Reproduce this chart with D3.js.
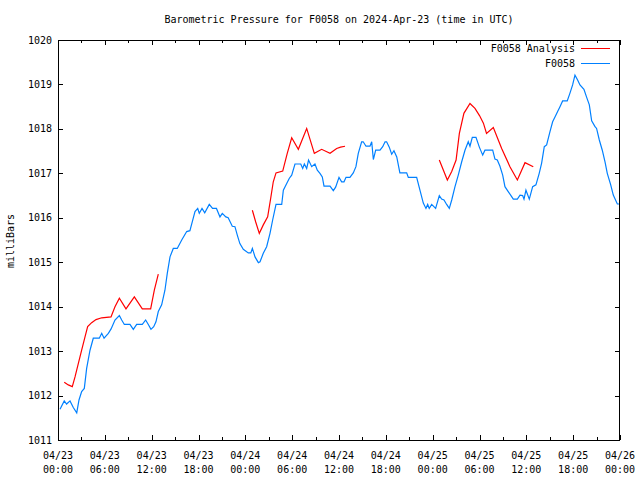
<!DOCTYPE html>
<html>
<head>
<meta charset="utf-8">
<script src="https://cdn.jsdelivr.net/npm/d3@7"></script>
<style>
html,body{margin:0;padding:0;background:#fff;}
svg{display:block;}
text{font-family:"DejaVu Sans Mono",monospace;font-size:10px;fill:#000;}
</style>
</head>
<body>
<svg id="chart" width="640" height="480"></svg>
<script>
// ---- data (hours since 2024-04-23 00:00 UTC, pressure in mb) ----
const titleText = "Barometric Pressure for F0058 on 2024-Apr-23 (time in UTC)";
const yLabel = "milliBars";
const seriesNames = ["F0058 Analysis", "F0058"];
const yTicks = [1011,1012,1013,1014,1015,1016,1017,1018,1019,1020];
const xTickHours = [0,6,12,18,24,30,36,42,48,54,60,66,72];
const xTickDates = ["04/23","04/23","04/23","04/23","04/24","04/24","04/24","04/24","04/25","04/25","04/25","04/25","04/26"];
const xTickTimes = ["00:00","06:00","12:00","18:00","00:00","06:00","12:00","18:00","00:00","06:00","12:00","18:00","00:00"];

const stationHours = [0.26,0.8,1.1,1.54,1.96,2.4,2.69,3.03,3.37,3.67,4.1,4.52,5.29,5.6,5.9,6.45,6.8,7.3,7.86,8.16,8.5,9.22,9.65,10.08,10.8,11.23,11.57,11.91,12.26,12.55,12.85,13.28,13.7,14.0,14.35,14.77,15.28,15.85,16.49,16.9,17.2,17.55,17.9,18.1,18.45,18.8,19.38,19.8,20.3,20.75,21.05,21.5,21.8,22.33,22.67,22.97,23.3,23.74,24.38,24.7,24.9,25.24,25.67,25.88,26.3,26.73,27.16,27.5,27.93,28.66,28.87,29.3,29.64,29.94,30.36,31.1,31.35,31.56,31.86,32.1,32.5,32.92,33.22,33.56,33.86,34.08,34.85,35.27,35.57,36.0,36.34,36.64,36.9,37.4,37.83,38.17,38.47,38.9,39.1,39.46,39.97,40.19,40.4,40.7,41.25,41.6,41.9,42.1,42.44,42.75,43.04,43.4,43.8,44.67,44.88,45.95,46.37,46.8,47.14,47.36,47.56,47.87,48.38,48.85,49.15,49.45,49.79,50.13,50.44,50.86,51.28,51.72,52.14,52.56,52.78,53.08,53.55,53.98,54.41,54.7,55.69,55.98,56.28,56.62,56.97,57.26,57.68,57.99,58.33,58.85,59.19,59.53,59.7,59.95,60.38,60.81,61.23,61.65,61.96,62.3,62.6,63.03,63.37,63.67,64.01,64.31,64.65,65.24,65.58,65.93,66.23,66.57,66.87,67.38,67.73,68.07,68.37,68.8,69.0,69.35,69.73,70.08,70.37,70.81,71.14,71.66,71.92];
const stationValues = [1011.69,1011.88,1011.81,1011.88,1011.73,1011.61,1011.9,1012.09,1012.16,1012.61,1013.02,1013.29,1013.29,1013.4,1013.29,1013.4,1013.5,1013.7,1013.8,1013.7,1013.6,1013.6,1013.49,1013.6,1013.6,1013.7,1013.6,1013.49,1013.55,1013.66,1013.89,1014.04,1014.37,1014.75,1015.12,1015.31,1015.31,1015.5,1015.69,1015.71,1015.91,1016.14,1016.21,1016.1,1016.21,1016.11,1016.3,1016.21,1016.21,1016.02,1016.1,1016.02,1016.0,1015.81,1015.8,1015.61,1015.42,1015.29,1015.21,1015.21,1015.31,1015.12,1014.99,1015.01,1015.2,1015.35,1015.65,1015.95,1016.3,1016.3,1016.62,1016.77,1016.89,1016.96,1017.21,1017.21,1017.11,1017.21,1017.11,1017.3,1017.15,1017.21,1017.07,1017.0,1016.92,1016.71,1016.71,1016.61,1016.69,1016.91,1016.81,1016.81,1016.91,1016.91,1017.01,1017.15,1017.45,1017.71,1017.71,1017.61,1017.61,1017.71,1017.31,1017.52,1017.52,1017.6,1017.71,1017.71,1017.59,1017.43,1017.51,1017.37,1017.01,1017.01,1016.91,1016.91,1016.62,1016.33,1016.21,1016.3,1016.21,1016.3,1016.21,1016.5,1016.42,1016.4,1016.3,1016.21,1016.4,1016.7,1016.96,1017.26,1017.52,1017.71,1017.61,1017.81,1017.81,1017.59,1017.41,1017.52,1017.52,1017.32,1017.3,1017.16,1016.96,1016.7,1016.59,1016.51,1016.42,1016.42,1016.51,1016.5,1016.42,1016.62,1016.42,1016.7,1016.74,1017.0,1017.23,1017.6,1017.64,1017.94,1018.16,1018.27,1018.39,1018.5,1018.63,1018.63,1018.8,1018.99,1019.21,1019.1,1018.99,1018.89,1018.71,1018.54,1018.18,1018.05,1018.01,1017.75,1017.52,1017.26,1017.0,1016.74,1016.51,1016.31,1016.31];

// analysis series; null marks a gap
const analysisHours = [0.8,1.32,1.83,2.18,2.6,3.03,3.46,3.8,4.31,4.87,5.6,6.79,7.3,7.86,8.71,9.78,10.8,11.87,12.34,12.85,
  18.0,
  24.9,25.32,25.79,26.3,26.86,27.25,27.58,27.93,28.79,29.37,29.94,30.79,31.86,32.84,33.78,34.85,35.7,36.2,36.77,
  42.0,
  48.85,49.88,50.44,51.0,51.42,52.0,52.78,53.42,54.0,54.5,54.9,55.77,56.84,57.9,58.85,59.83,60.89];
const analysisValues = [1012.3,1012.24,1012.2,1012.42,1012.72,1013.02,1013.32,1013.55,1013.64,1013.71,1013.75,1013.77,1014.0,1014.19,1013.95,1014.22,1013.95,1013.95,1014.37,1014.73,
  null,
  1016.17,1015.91,1015.65,1015.84,1016.02,1016.44,1016.81,1017.01,1017.05,1017.45,1017.8,1017.54,1018.01,1017.45,1017.54,1017.45,1017.56,1017.59,1017.61,
  null,
  1017.3,1016.85,1017.04,1017.3,1017.9,1018.35,1018.57,1018.46,1018.3,1018.13,1017.9,1018.03,1017.56,1017.15,1016.85,1017.24,1017.15];

const colors = ["#ff0000", "#0080ff"];

// ---- layout ----
const svg = d3.select("#chart");
const L = 58, R = 620, T = 40, B = 440;
const x = d3.scaleLinear().domain([0,72]).range([L,R]);
const y = d3.scaleLinear().domain([1011,1020]).range([B,T]);

// title
svg.append("text").attr("x", (L+R)/2).attr("y", 23).attr("text-anchor","middle").text(titleText);
// y label
svg.append("text").attr("transform","translate(14,241) rotate(-90)").attr("text-anchor","middle").text(yLabel);

// axes (ticks inward, mirrored)
const g = svg.append("g");
const majorLen = 5, minorLen = 3;
const minorHours = d3.range(3,72,6);
function tickLines(vals, len, scaleFn, orient){
  vals.forEach(v=>{
    if(orient==="x"){
      const px = Math.round(scaleFn(v))+0.5;
      g.append("line").attr("x1",px).attr("x2",px).attr("y1",B).attr("y2",B-len).attr("stroke","#000");
      g.append("line").attr("x1",px).attr("x2",px).attr("y1",T).attr("y2",T+len).attr("stroke","#000");
    } else {
      const py = Math.round(scaleFn(v))+0.5;
      g.append("line").attr("y1",py).attr("y2",py).attr("x1",L).attr("x2",L+len).attr("stroke","#000");
      g.append("line").attr("y1",py).attr("y2",py).attr("x1",R).attr("x2",R-len).attr("stroke","#000");
    }
  });
}
tickLines(xTickHours, majorLen, x, "x");
tickLines(minorHours, minorLen, x, "x");
tickLines(yTicks, majorLen, y, "y");

// y tick labels
yTicks.forEach(v=>{
  svg.append("text").attr("x", L-6).attr("y", y(v)+3.5).attr("text-anchor","end").text(v);
});
// x tick labels
xTickHours.forEach((h,i)=>{
  svg.append("text").attr("x", x(h)).attr("y", 459).attr("text-anchor","middle").text(xTickDates[i]);
  svg.append("text").attr("x", x(h)).attr("y", 473).attr("text-anchor","middle").text(xTickTimes[i]);
});

// lines
const line = d3.line().defined(d=>d[1]!==null).x(d=>x(d[0])).y(d=>y(d[1]));
const analysisData = analysisHours.map((h,i)=>[h, analysisValues[i]]);
const stationData = stationHours.map((h,i)=>[h, stationValues[i]]);
svg.append("path").datum(analysisData).attr("d", line).attr("fill","none").attr("stroke",colors[0]).attr("stroke-width",1.2);
svg.append("path").datum(stationData).attr("d", line).attr("fill","none").attr("stroke",colors[1]).attr("stroke-width",1.2);

// frame
svg.append("rect").attr("x",L+0.5).attr("y",T+0.5).attr("width",R-L-1).attr("height",B-T).attr("fill","none").attr("stroke","#000");

// legend
seriesNames.forEach((n,i)=>{
  const ly = 48 + i*15;
  svg.append("text").attr("x", 575).attr("y", ly+3.5).attr("text-anchor","end").text(n);
  svg.append("line").attr("x1",581).attr("x2",610).attr("y1",ly+0.5).attr("y2",ly+0.5).attr("stroke",colors[i]).attr("stroke-width",1);
});
</script>
</body>
</html>
